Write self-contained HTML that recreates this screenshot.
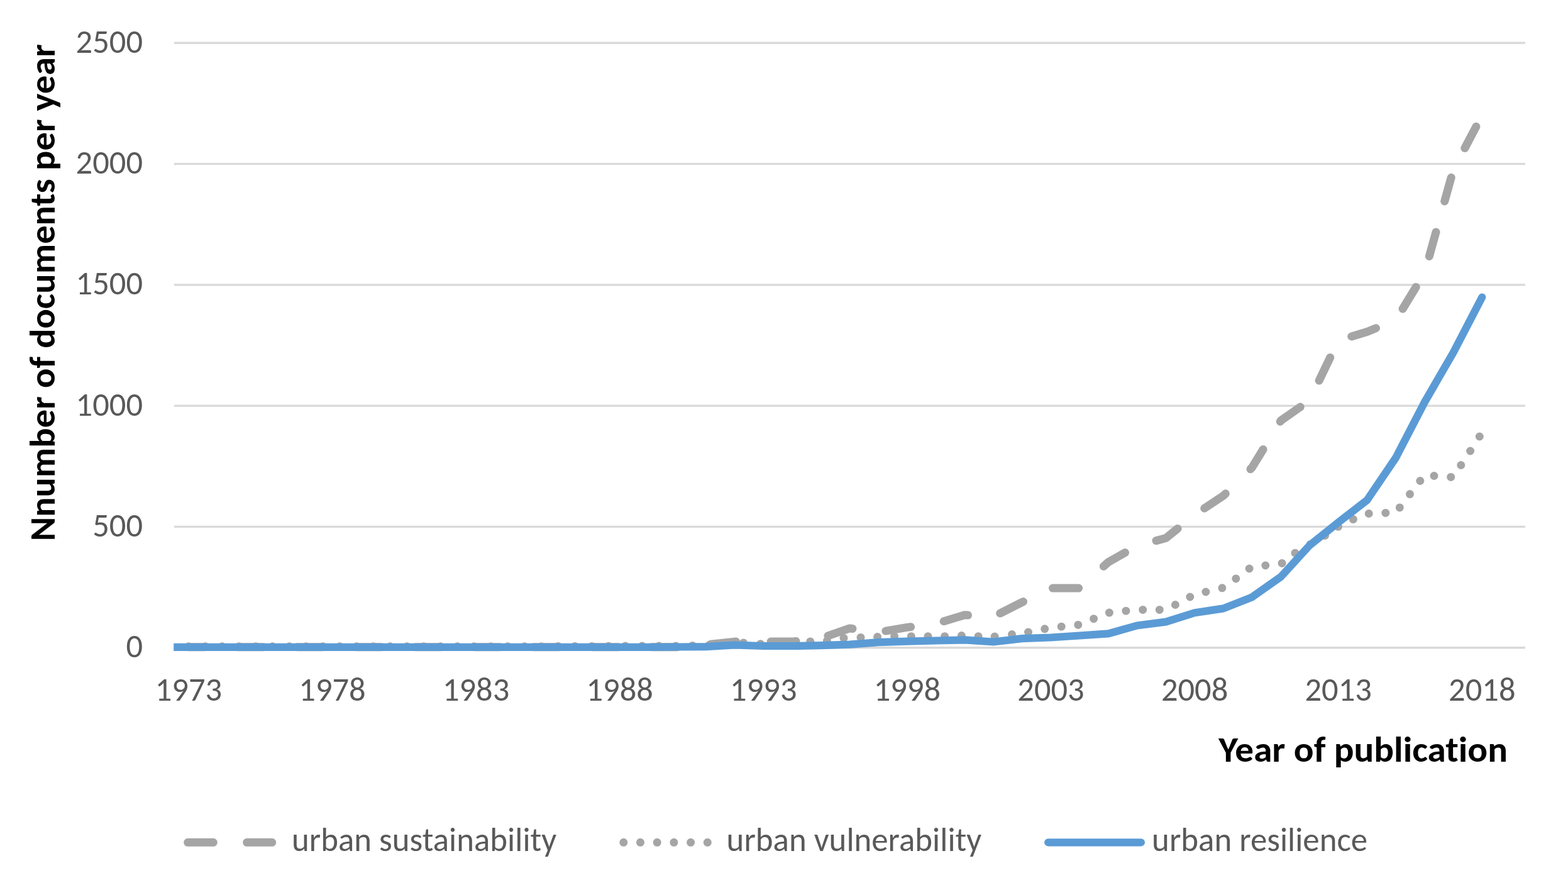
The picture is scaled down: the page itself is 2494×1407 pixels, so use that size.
<!DOCTYPE html>
<html><head><meta charset="utf-8"><title>Documents per year</title>
<style>
html,body{margin:0;padding:0;background:#fff;}
body{width:2494px;height:1407px;overflow:hidden;}
svg{display:block;}
text{font-variant-ligatures:none;font-feature-settings:"liga" 0,"clig" 0;}
.lbl{font-family:Carlito,"Liberation Sans",sans-serif;font-size:52.5px;fill:#595959;}
.ttl{font-family:Carlito,"Liberation Sans",sans-serif;font-size:57px;font-weight:bold;fill:#000;}
</style></head>
<body>
<svg width="2494" height="1407" viewBox="0 0 2494 1407">
<defs><clipPath id="plot"><rect x="276.2" y="0" width="2200" height="1407"/></clipPath></defs>
<rect width="2494" height="1407" fill="#fff"/>
<g stroke="#D9D9D9" stroke-width="3.4"><line x1="277" x2="2426" y1="1029.7" y2="1029.7"/><line x1="277" x2="2426" y1="837.4" y2="837.4"/><line x1="277" x2="2426" y1="645.1" y2="645.1"/><line x1="277" x2="2426" y1="452.9" y2="452.9"/><line x1="277" x2="2426" y1="260.6" y2="260.6"/><line x1="277" x2="2426" y1="68.3" y2="68.3"/></g>
<g class="lbl" text-anchor="end"><text x="227" y="1045.1" textLength="26.6" lengthAdjust="spacingAndGlyphs">0</text><text x="227" y="852.8" textLength="79.8" lengthAdjust="spacingAndGlyphs">500</text><text x="227" y="660.5" textLength="106.4" lengthAdjust="spacingAndGlyphs">1000</text><text x="227" y="468.3" textLength="106.4" lengthAdjust="spacingAndGlyphs">1500</text><text x="227" y="276.0" textLength="106.4" lengthAdjust="spacingAndGlyphs">2000</text><text x="227" y="83.7" textLength="106.4" lengthAdjust="spacingAndGlyphs">2500</text></g>
<g class="lbl" text-anchor="middle"><text x="299.9" y="1114" textLength="106.4" lengthAdjust="spacingAndGlyphs">1973</text><text x="528.5" y="1114" textLength="106.4" lengthAdjust="spacingAndGlyphs">1978</text><text x="757.1" y="1114" textLength="106.4" lengthAdjust="spacingAndGlyphs">1983</text><text x="985.7" y="1114" textLength="106.4" lengthAdjust="spacingAndGlyphs">1988</text><text x="1214.3" y="1114" textLength="106.4" lengthAdjust="spacingAndGlyphs">1993</text><text x="1442.9" y="1114" textLength="106.4" lengthAdjust="spacingAndGlyphs">1998</text><text x="1671.5" y="1114" textLength="106.4" lengthAdjust="spacingAndGlyphs">2003</text><text x="1900.1" y="1114" textLength="106.4" lengthAdjust="spacingAndGlyphs">2008</text><text x="2128.7" y="1114" textLength="106.4" lengthAdjust="spacingAndGlyphs">2013</text><text x="2357.3" y="1114" textLength="106.4" lengthAdjust="spacingAndGlyphs">2018</text></g>
<g fill="none" stroke-width="13.0" stroke-linecap="round" stroke-linejoin="round">
<path d="M1036.6,1028.7 L1077.1,1028.7 M942.6,1028.7 L983.1,1028.7 M848.6,1028.7 L889.1,1028.7 M754.6,1028.7 L757.1,1028.7 L795.1,1028.7 M660.6,1028.7 L665.7,1028.7 L701.1,1028.7 M566.6,1028.7 L574.2,1028.7 L607.1,1028.7 M472.6,1028.7 L482.8,1028.7 L513.1,1028.7 M378.6,1028.7 L391.3,1028.7 L419.1,1028.7 M299.9,1028.7 L325.1,1028.7 M1130.4,1024.3 L1168.6,1020.1 L1170.6,1020.1 M1226.0,1020.1 L1260.0,1020.1 L1266.0,1019.4 M1317.0,1010.8 L1351.5,998.9 L1356.0,999.5 M1408.9,1003.1 L1442.9,997.4 L1448.6,996.7 M1501.2,987.8 L1534.3,977.8 L1539.5,978.1 M1590.7,975.1 L1625.8,957.4 L1627.5,956.6 M1674.5,935.1 L1715.6,935.1 M1755.4,900.4 L1762.9,893.6 L1789.5,878.6 M1839.0,859.6 L1854.4,855.5 L1873.1,840.4 M1915.7,808.2 L1945.8,788.2 L1949.3,784.8 M1988.9,745.8 L1991.5,743.2 L2009.1,714.5 M2036.3,670.2 L2037.3,668.6 L2068.2,647.0 M2098.1,605.1 L2115.7,568.4 M2149.7,534.9 L2174.4,527.5 L2188.5,521.8 M2231.1,491.0 L2252.2,456.4 M2273.3,407.4 L2284.0,369.0 M2297.7,319.9 L2308.2,282.3 M2329.8,235.6 L2347.9,201.2" stroke="#A5A5A5"/>
<path d="M299.9,1027.8h0 M326.6,1027.8h0 M353.3,1027.8h0 M380.1,1027.8h0 M406.8,1027.8h0 M433.5,1027.8h0 M460.2,1027.8h0 M486.9,1027.8h0 M513.7,1027.8h0 M540.4,1027.8h0 M567.1,1027.8h0 M593.8,1027.8h0 M620.5,1027.8h0 M647.3,1027.8h0 M674.0,1027.8h0 M700.7,1027.8h0 M727.4,1027.8h0 M754.1,1027.8h0 M780.9,1027.8h0 M807.6,1027.8h0 M834.3,1027.8h0 M861.0,1027.7h0 M887.7,1027.4h0 M914.5,1027.4h0 M941.2,1027.4h0 M967.9,1027.2h0 M994.6,1027.0h0 M1021.3,1027.0h0 M1048.1,1027.0h0 M1074.8,1027.0h0 M1101.5,1026.4h0 M1128.2,1025.4h0 M1154.8,1023.2h0 M1182.6,1021.9h0 M1209.6,1023.7h0 M1236.3,1021.5h0 M1262.5,1020.5h0 M1288.8,1019.9h0 M1315.4,1018.9h0 M1342.0,1014.4h0 M1369.0,1013.4h0 M1395.6,1012.5h0 M1422.6,1011.7h0 M1449.3,1011.7h0 M1476.0,1011.7h0 M1502.7,1011.7h0 M1529.4,1010.5h0 M1556.1,1011.7h0 M1582.1,1012.0h0 M1609.5,1008.5h0 M1635.5,1005.0h0 M1661.7,999.8h0 M1688.2,996.2h0 M1714.8,993.4h0 M1739.6,983.7h0 M1764.4,974.1h0 M1790.9,971.2h0 M1817.7,969.4h0 M1844.3,969.4h0 M1869.4,961.5h0 M1892.8,949.0h0 M1917.9,941.0h0 M1943.9,934.8h0 M1965.8,919.9h0 M1987.1,904.0h0 M2012.8,899.0h0 M2039.1,895.4h0 M2060.0,879.2h0 M2084.0,865.5h0 M2107.5,851.5h0 M2128.5,837.3h0 M2152.4,825.6h0 M2177.2,816.5h0 M2203.8,815.4h0 M2226.3,806.9h0 M2242.5,785.6h0 M2258.8,764.5h0 M2281.0,756.5h0 M2307.7,758.4h0 M2323.8,739.5h0 M2338.6,717.0h0 M2353.3,694.0h0" stroke="#A5A5A5"/>
<path d="M254.2,1028.9 L299.9,1028.9 L345.6,1028.9 L391.3,1028.9 L437.1,1028.9 L482.8,1028.9 L528.5,1028.9 L574.2,1028.9 L619.9,1028.9 L665.7,1028.9 L711.4,1028.9 L757.1,1028.9 L802.8,1028.9 L848.5,1028.9 L894.3,1028.9 L940.0,1028.9 L985.7,1028.9 L1031.4,1028.9 L1077.1,1028.5 L1122.9,1028.2 L1168.6,1025.5 L1214.3,1027.0 L1260.0,1027.0 L1305.7,1026.2 L1351.5,1024.7 L1397.2,1021.2 L1442.9,1019.7 L1488.6,1018.5 L1534.3,1017.4 L1580.1,1020.5 L1625.8,1015.1 L1671.5,1013.5 L1717.2,1010.5 L1762.9,1007.4 L1808.7,994.5 L1854.4,988.6 L1900.1,974.3 L1945.8,967.4 L1991.5,949.3 L2037.3,917.0 L2083.0,867.0 L2128.7,830.5 L2174.4,795.1 L2220.1,727.8 L2265.9,639.4 L2311.6,560.5 L2357.3,472.5" stroke="#5B9BD5" stroke-width="12.2" clip-path="url(#plot)"/>
</g>
<text class="ttl" text-anchor="end" x="2398" y="1211.3" textLength="459.7" lengthAdjust="spacingAndGlyphs">Year of publication</text>
<text class="ttl" transform="translate(87.3,857.3) rotate(-90)" x="-3" y="0" textLength="790.1" lengthAdjust="spacingAndGlyphs">Nnumber of documents per year</text>
<g fill="none" stroke-width="13.0" stroke-linecap="round">
<path d="M298.7,1339.3 H339.3 M392.7,1339.3 H432.7" stroke="#A5A5A5"/>
<path d="M991.8,1339.3 H1139.5" stroke="#A5A5A5" stroke-dasharray="0 26.7"/>
<path d="M1667.2,1339.3 H1814.9" stroke="#5B9BD5" stroke-width="12.2"/>
</g>
<g class="lbl" style="font-size:52.9px">
<text x="464" y="1353.2" textLength="421.2" lengthAdjust="spacingAndGlyphs">urban sustainability</text>
<text x="1155.6" y="1353.2" textLength="405.6" lengthAdjust="spacingAndGlyphs">urban vulnerability</text>
<text x="1832.1" y="1353.2" textLength="343.0" lengthAdjust="spacingAndGlyphs">urban resilience</text>
</g>
</svg>
</body></html>
